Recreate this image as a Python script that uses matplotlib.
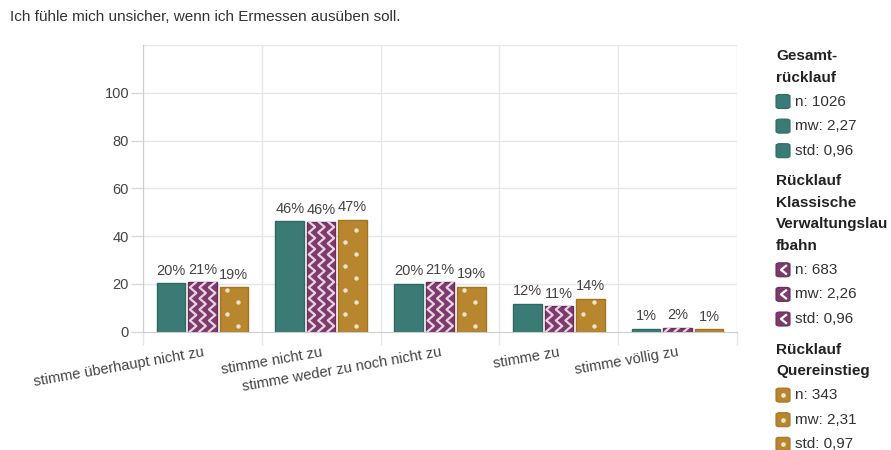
import numpy as np
import matplotlib
matplotlib.use("Agg")
import matplotlib.pyplot as plt
from matplotlib.patches import FancyBboxPatch
from matplotlib.lines import Line2D

plt.rcParams['font.family'] = ['Liberation Sans', 'DejaVu Sans']

title = "Ich fühle mich unsicher, wenn ich Ermessen ausüben soll."
categories = ["stimme überhaupt nicht zu", "stimme nicht zu", "stimme weder zu noch nicht zu",
              "stimme zu", "stimme völlig zu"]
gesamt = [20.2, 46.1, 20.1, 11.6, 1.2]
klassisch = [20.7, 45.7, 20.6, 10.6, 1.6]
quer = [18.6, 46.8, 18.7, 13.6, 0.9]
labels_gesamt = ["20%", "46%", "20%", "12%", "1%"]
labels_klassisch = ["21%", "46%", "21%", "11%", "2%"]
labels_quer = ["19%", "47%", "19%", "14%", "1%"]

legend_groups = [
    ("Gesamt-\nrücklauf", ["n: 1026", "mw: 2,27", "std: 0,96"]),
    ("Rücklauf\nKlassische\nVerwaltungslau\nfbahn", ["n: 683", "mw: 2,26", "std: 0,96"]),
    ("Rücklauf\nQuereinstieg", ["n: 343", "mw: 2,31", "std: 0,97"]),
]

c_teal = "#3b7b76"
c_purple = "#7c3b6c"
c_gold = "#b7862f"
edge = {c_teal: "#2f6863", c_purple: "#6a2c5b", c_gold: "#a27422"}

W, H = 891, 450
fig = plt.figure(figsize=(W / 100, H / 100), dpi=100)
ax = fig.add_axes([143 / W, 1 - 331.5 / H, (737 - 143) / W, (331.5 - 45) / H])

x = np.arange(len(categories))
bw = 0.24
off = 0.265
ymax = 120
px_x = (737 - 143) / 5.0          # pixels per x unit
px_y = (331.5 - 45) / ymax        # pixels per y unit

# grid
for b in np.arange(-0.5, 5.0, 1):
    ax.axvline(b, color="#e6e6e6", lw=1, zorder=0)
for g in range(20, 121, 20):
    ax.axhline(g, color="#e6e6e6", lw=1, zorder=0)

series = [(gesamt, labels_gesamt, c_teal, -off),
          (klassisch, labels_klassisch, c_purple, 0),
          (quer, labels_quer, c_gold, off)]

for vals, labs, col, o in series:
    bars = ax.bar(x + o, vals, bw, color=col, edgecolor=edge[col], linewidth=1, zorder=2)
    for bar, lab in zip(bars, labs):
        ax.annotate(lab, (bar.get_x() + bar.get_width() / 2, bar.get_height()),
                    xytext=(0, 4), textcoords="offset points", ha="center", va="bottom",
                    fontsize=10.5, color="#444444")
        x0 = bar.get_x()
        h = bar.get_height()
        if col == c_purple:
            # white zigzag columns
            per = 11 / px_y
            amp = 3.2 / px_x
            ys = np.arange(0, h + per, per / 2)
            for k in (5, 14.5, 24):
                cx = x0 + k / px_x
                xs = cx + amp * np.where(np.arange(len(ys)) % 2 == 0, -1, 1)
                ln, = ax.plot(xs, ys, color="#e9d2e2", lw=1.6, zorder=3)
                ln.set_clip_path(bar)
        elif col == c_gold:
            ys = np.arange(2.5, h, 12 / px_y)
            xs = [x0 + (7 if i % 2 else 18) / px_x for i in range(len(ys))]
            pts, = ax.plot(xs, ys, "o", color="#f0e2c6", ms=3.2, mew=0, zorder=3)
            pts.set_clip_path(bar)

ax.set_xlim(-0.5, 4.5)
ax.set_ylim(0, ymax)
ax.set_yticks(range(0, 101, 20))
ax.set_xticks(np.arange(-0.5, 5.0, 1))
ax.set_xticklabels([])
ax.set_xticks(x, minor=True)
ax.set_xticklabels(categories, minor=True, rotation=10, ha="right", rotation_mode="anchor")
ax.tick_params(axis="x", which="major", length=9, color="#e6e6e6", width=1)
ax.tick_params(axis="x", which="minor", length=0, pad=10, labelsize=10.5, labelcolor="#444444")
ax.tick_params(axis="y", length=9, color="#d8d8d8", width=1, pad=1, labelsize=10.5, labelcolor="#444444")
for s in ["top", "right"]:
    ax.spines[s].set_visible(False)
ax.spines["left"].set_color("#cccccc")
ax.spines["bottom"].set_color("#cccccc")
ax.set_facecolor("white")

fig.text(10 / W, 1 - 17 / H, title, fontsize=11, color="#333333", va="center", ha="left")

# legend on the right
ypos = 56
for gi, (head, items) in enumerate(legend_groups):
    for line in head.split("\n"):
        fig.text(776 / W, 1 - ypos / H, line, fontsize=11, fontweight="bold",
                 color="#222222", va="center", ha="left")
        ypos += 21.5
    ypos += 2.5
    col = [c_teal, c_purple, c_gold][gi]
    for item in items:
        box = FancyBboxPatch((776 / W, 1 - (ypos + 7) / H), 14 / W, 14 / H,
                             boxstyle="round,pad=0,rounding_size=0.004",
                             transform=fig.transFigure, facecolor=col, edgecolor=edge[col], lw=0.8)
        fig.patches.append(box)
        if gi == 1:
            fig.lines.append(Line2D([786 / W, 781 / W, 786 / W],
                                    [1 - (ypos - 4) / H, 1 - ypos / H, 1 - (ypos + 4) / H],
                                    transform=fig.transFigure, color="white", lw=1.6))
        elif gi == 2:
            fig.lines.append(Line2D([783 / W], [1 - ypos / H], marker="o", ms=3.4, mew=0,
                                    color="#f3e6cc", transform=fig.transFigure))
        fig.text(795 / W, 1 - ypos / H, item, fontsize=11, color="#333333", va="center", ha="left")
        ypos += 24.6
    ypos += 6

fig.savefig("out.png", dpi=100, facecolor="white")
